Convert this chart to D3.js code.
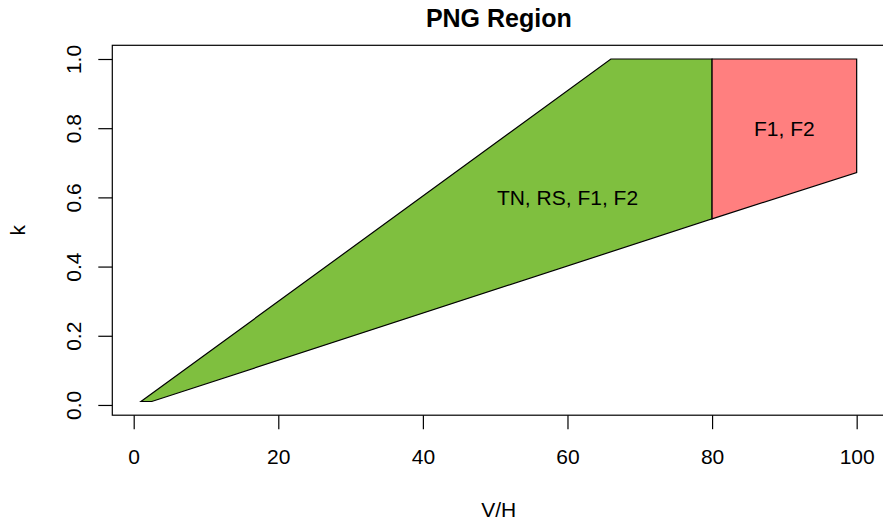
<!DOCTYPE html>
<html>
<head>
<meta charset="utf-8">
<script src="https://cdn.jsdelivr.net/npm/d3@7"></script>
<style>
  body { margin: 0; background: #fff; }
  svg { display: block; font-family: "Liberation Sans", Arial, sans-serif; }
</style>
</head>
<body>
<svg id="chart" width="883" height="521"></svg>
<script>
// region polygons (V/H, k)
const greenV = [1, 66, 80, 80, 2.5];
const greenK = [0.01, 1, 1, 0.538, 0.01];
const redV = [80, 100, 100, 80];
const redK = [1, 1, 0.672, 0.538];

const regionLabels = ["TN, RS, F1, F2", "F1, F2"];
const labelV = [60, 90];
const labelK = [0.6, 0.8];

const xTicks = [0, 20, 40, 60, 80, 100];
const yTicks = [0, 0.2, 0.4, 0.6, 0.8, 1.0];

let svg = d3.select("#chart"),
    pLeft = 112.3, pRight = 885.3, pTop = 45.3, pBottom = 415.2;

// R style 4% axis extension
let x = d3.scaleLinear().domain([1 - 3.96, 100 + 3.96]).range([pLeft, pRight]);
let y = d3.scaleLinear().domain([0.01 - 0.0396, 1 + 0.0396]).range([pBottom, pTop]);

let line = d3.line()
    .x(function(d) { return x(d[0]); })
    .y(function(d) { return y(d[1]); });

svg.append("path")
    .datum(d3.zip(greenV, greenK))
    .attr("d", function(d) { return line(d) + "Z"; })
    .attr("fill", "#7FBF3F")
    .attr("stroke", "#000")
    .attr("stroke-width", 1.2);

svg.append("path")
    .datum(d3.zip(redV, redK))
    .attr("d", function(d) { return line(d) + "Z"; })
    .attr("fill", "#FF7F7F")
    .attr("stroke", "#000")
    .attr("stroke-width", 1.2);

svg.append("g")
    .selectAll("text")
    .data(regionLabels)
    .enter().append("text")
      .attr("x", function(d, i) { return x(labelV[i]); })
      .attr("y", function(d, i) { return y(labelK[i]); })
      .attr("dy", "0.36em")
      .attr("text-anchor", "middle")
      .attr("font-size", 21)
      .attr("fill", "#000")
      .text(function(d) { return d; });

// box
svg.append("rect")
    .attr("x", pLeft)
    .attr("y", pTop)
    .attr("width", pRight - pLeft)
    .attr("height", pBottom - pTop)
    .attr("fill", "none")
    .attr("stroke", "#000")
    .attr("stroke-width", 1.2);

let xAxis = svg.append("g")
    .attr("transform", "translate(0," + pBottom + ")")
    .call(d3.axisBottom(x).tickValues(xTicks).tickSize(14).tickPadding(20).tickFormat(d3.format("d")));

let yAxis = svg.append("g")
    .attr("transform", "translate(" + pLeft + ",0)")
    .call(d3.axisLeft(y).tickValues(yTicks).tickSize(14).tickFormat(d3.format(".1f")));

[xAxis, yAxis].forEach(function(a) {
  a.select(".domain").remove();
  a.selectAll("line").attr("stroke", "#000").attr("stroke-width", 1.2);
  a.selectAll("text").attr("font-size", 21).attr("font-family", null).attr("fill", "#000");
});

yAxis.selectAll("text")
    .attr("x", null)
    .attr("dy", null)
    .attr("text-anchor", "middle")
    .attr("transform", "translate(-31.5,0) rotate(-90)");

svg.append("text")
    .attr("x", (pLeft + pRight) / 2)
    .attr("y", 26.5)
    .attr("text-anchor", "middle")
    .attr("font-size", 25)
    .attr("font-weight", "bold")
    .text("PNG Region");

svg.append("text")
    .attr("x", (pLeft + pRight) / 2)
    .attr("y", 517)
    .attr("text-anchor", "middle")
    .attr("font-size", 21)
    .text("V/H");

svg.append("text")
    .attr("transform", "translate(25," + (pTop + pBottom) / 2 + ") rotate(-90)")
    .attr("text-anchor", "middle")
    .attr("font-size", 21)
    .text("k");
</script>
</body>
</html>
